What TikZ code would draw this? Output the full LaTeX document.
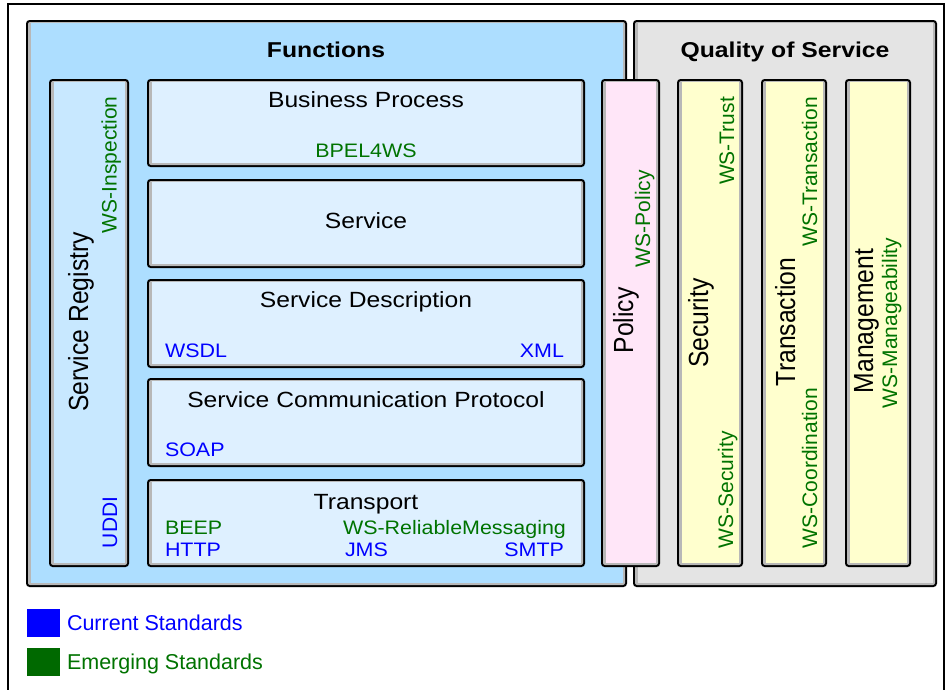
\documentclass[tikz,border=0pt]{standalone}
\usepackage{fontspec}
\setmainfont{Liberation Sans}
\usepackage{graphicx}
\definecolor{funcblue}{RGB}{173,222,255}
\definecolor{regblue}{RGB}{200,232,255}
\definecolor{layerblue}{RGB}{222,240,255}
\definecolor{qosgray}{RGB}{228,228,228}
\definecolor{policypink}{RGB}{255,230,248}
\definecolor{qosyellow}{RGB}{255,255,206}
\definecolor{bandgray}{RGB}{184,184,184}
\definecolor{stdblue}{RGB}{0,0,255}
\definecolor{stdgreen}{RGB}{0,115,0}
\definecolor{legendgreen}{RGB}{0,105,0}
\newcommand{\wdbig}[1]{\scalebox{1.12}[1]{#1}}
\newcommand{\wdsmall}[1]{\scalebox{1.1}[1]{#1}}
\newcommand{\wdtitle}[1]{\scalebox{1.15}[1]{#1}}
\newcommand{\htvert}[1]{\scalebox{1}[1.12]{#1}}
\newcommand{\panel}[5]{%
  \fill[black,rounded corners=3.5pt] (#1,#2) rectangle (#3,#4);
  \fill[bandgray,rounded corners=2pt] ({#1+2},{#2+2}) rectangle ({#3-2},{#4-2});
  \fill[#5] ({#1+4.5},{#2+3}) rectangle ({#3-4.5},{#4-4.5});
}
\tikzset{
  txt/.style={inner sep=0pt, outer sep=0pt},
  title/.style={txt, font=\fontsize{21.5}{26}\selectfont\bfseries},
  hbig/.style={txt, font=\fontsize{22}{26}\selectfont},
  hsmall/.style={txt, font=\fontsize{19.5}{23}\selectfont},
  vbig/.style={txt, rotate=90, font=\fontsize{24.7}{28}\selectfont},
  vsmall/.style={txt, rotate=90, font=\fontsize{21}{25}\selectfont},
  legendtxt/.style={txt, font=\fontsize{21.5}{26}\selectfont},
  cur/.style={text=stdblue},
  emg/.style={text=stdgreen},
}
\begin{document}
\begin{tikzpicture}[x=1pt,y=-1pt]
\useasboundingbox (0,0) rectangle (946,689);
\fill[white] (0,0) rectangle (946,689);
% outer frame
\draw[line width=2pt] (8.3,3.7) rectangle (944,692);

% main panels
\panel{26}{20}{627}{587}{funcblue}
\panel{633}{20}{937}{587}{qosgray}
\node[title, anchor=base] (functions) at (326,57) {\wdtitle{Functions}};
\node[title, anchor=base] (qos) at (785,57) {\wdtitle{Quality of Service}};

% service registry
\panel{49}{79}{129}{567}{regblue}
\node[vbig, anchor=base] (registry) at (88,322) {\htvert{Service Registry}};
\node[vsmall, emg, anchor=base west] (inspection) at (116.5,233) {WS-Inspection};
\node[vsmall, cur, anchor=base west] (uddi) at (117,548) {UDDI};

% layers
\panel{147}{79}{585}{167}{layerblue}
\panel{147}{179}{585}{268}{layerblue}
\panel{147}{279}{585}{368}{layerblue}
\panel{147}{378}{585}{467}{layerblue}
\panel{147}{479}{585}{567}{layerblue}

\node[hbig, anchor=base] (bp) at (366,107) {\wdbig{Business Process}};
\node[hsmall, emg, anchor=base] (bpel) at (366,157) {\wdsmall{BPEL4WS}};
\node[hbig, anchor=base] (service) at (366,228) {\wdbig{Service}};
\node[hbig, anchor=base] (sdesc) at (366,307) {\wdbig{Service Description}};
\node[hsmall, cur, anchor=base west] (wsdl) at (165,357) {\wdsmall{WSDL}};
\node[hsmall, cur, anchor=base east] (xml) at (564,357) {\wdsmall{XML}};
\node[hbig, anchor=base] (scp) at (366,407) {\wdbig{Service Communication Protocol}};
\node[hsmall, cur, anchor=base west] (soap) at (165,456) {\wdsmall{SOAP}};
\node[hbig, anchor=base] (transport) at (366,509) {\wdbig{Transport}};
\node[hsmall, emg, anchor=base west] (beep) at (165,534) {\wdsmall{BEEP}};
\node[hsmall, cur, anchor=base west] (http) at (165,556) {\wdsmall{HTTP}};
\node[hsmall, emg, anchor=base west] (wsrm) at (343,534) {\wdsmall{WS-ReliableMessaging}};
\node[hsmall, cur, anchor=base west] (jms) at (345,556) {\wdsmall{JMS}};
\node[hsmall, cur, anchor=base east] (smtp) at (564,556) {\wdsmall{SMTP}};

% QoS columns
\panel{677}{79}{743}{567}{qosyellow}
\panel{761}{79}{827}{567}{qosyellow}
\panel{845}{79}{911}{567}{qosyellow}
\node[vbig, anchor=base] (security) at (708,323) {\htvert{Security}};
\node[vsmall, emg, anchor=base east] (wstrust) at (734,97) {WS-Trust};
\node[vsmall, emg, anchor=base west] (wssec) at (733,548) {WS-Security};
\node[vbig, anchor=base] (transaction) at (795,322) {\htvert{Transaction}};
\node[vsmall, emg, anchor=base east] (wstx) at (817,97) {WS-Transaction};
\node[vsmall, emg, anchor=base west] (wscoord) at (817,548) {WS-Coordination};
\node[vbig, anchor=base] (management) at (873,321) {\htvert{Management}};
\node[vsmall, emg, anchor=base] (wsman) at (897,323) {WS-Manageability};

% policy (overlapping both panels)
\panel{601}{79}{660}{567}{policypink}
\node[vbig, anchor=base] (policy) at (633,320.5) {\htvert{Policy}};
\node[vsmall, emg, anchor=base west] (wspolicy) at (650,267) {WS-Policy};

% legend
\fill[stdblue] (27,609) rectangle (60,637);
\fill[legendgreen] (27,648) rectangle (60,676);
\node[legendtxt, text=stdblue, anchor=base west] (legcur) at (67,630) {Current Standards};
\node[legendtxt, text=stdgreen, anchor=base west] (legemg) at (67,669) {Emerging Standards};
\end{tikzpicture}
\end{document}
